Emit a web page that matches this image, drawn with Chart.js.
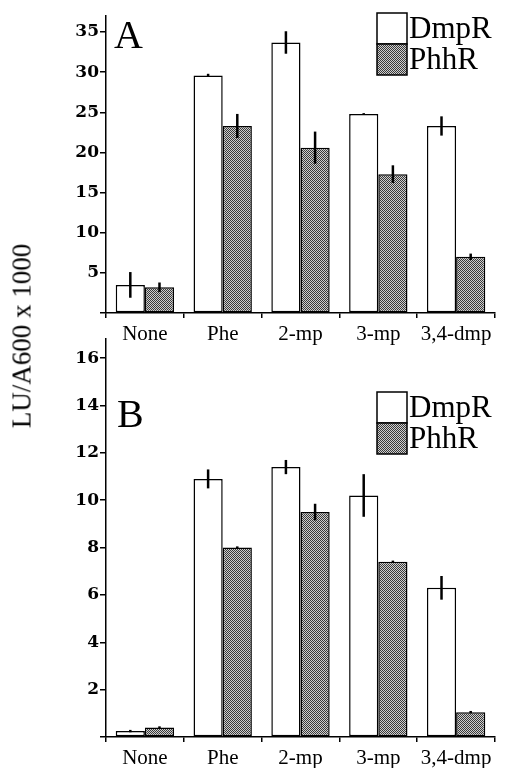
<!DOCTYPE html>
<html>
<head>
<meta charset="utf-8">
<script src="https://cdn.jsdelivr.net/npm/chart.js@4.4.0/dist/chart.umd.min.js"></script>
<style>
  body { margin: 0; background: #fff; }
  #wrap { position: relative; width: 506px; height: 768px; overflow: hidden; }
  #boxA { position: absolute; left: 0; top: 0; width: 506px; height: 352px; }
  #boxB { position: absolute; left: 0; top: 328px; width: 506px; height: 440px; }
  #ytitle {
    position: absolute; left: 22px; top: 336px;
    transform: translate(-50%, -50%) rotate(-90deg);
    font: 27px "Liberation Serif", serif; white-space: nowrap; color: #000;
  }
</style>
</head>
<body>
<div id="wrap">
  <div id="boxA"><canvas id="chartA"></canvas></div>
  <div id="boxB"><canvas id="chartB"></canvas></div>
  <div id="ytitle">LU/A600 x 1000</div>
</div>
<script>
// inducers on the x axis
const categories = ['None', 'Phe', '2-mp', '3-mp', '3,4-dmp'];
const seriesNames = ['DmpR', 'PhhR'];

// panel A
const dmprA = [3.5, 29.6, 33.7, 24.8, 23.3];
const dmprAErr = [1.6, 0.2, 1.4, 0.1, 1.2];
const phhrA = [3.2, 23.3, 20.6, 17.3, 7.0];
const phhrAErr = [0.6, 1.5, 2.0, 1.1, 0.4];

// panel B
const dmprB = [0.25, 10.9, 11.4, 10.2, 6.3];
const dmprBErr = [0.05, 0.4, 0.3, 0.9, 0.5];
const phhrB = [0.4, 8.0, 9.5, 7.4, 1.05];
const phhrBErr = [0.05, 0.05, 0.35, 0.05, 0.05];

// stippled grey fill like the printed figure
function makeStipple() {
  const c = document.createElement('canvas');
  c.width = 2; c.height = 2;
  const g = c.getContext('2d');
  g.fillStyle = '#cfcfcf'; g.fillRect(0, 0, 2, 2);
  g.fillStyle = '#3a3a3a';
  g.fillRect(0, 0, 1, 1);
  g.fillRect(1, 1, 1, 1);
  return g.createPattern(c, 'repeat');
}
const stipple = makeStipple();

// vertical error lines, no caps
const errorBars = {
  id: 'errorBars',
  afterDatasetsDraw(chart) {
    const ctx = chart.ctx;
    const y = chart.scales.y;
    ctx.save();
    ctx.strokeStyle = '#000';
    ctx.lineWidth = 2.5;
    chart.data.datasets.forEach((ds, i) => {
      const meta = chart.getDatasetMeta(i);
      meta.data.forEach((bar, j) => {
        const v = ds.data[j], e = ds.errors[j];
        ctx.beginPath();
        ctx.moveTo(bar.x, y.getPixelForValue(v + e));
        ctx.lineTo(bar.x, y.getPixelForValue(v - e));
        ctx.stroke();
      });
    });
    ctx.restore();
  }
};

// panel letter and boxed legend inside the plot
const panelDecor = {
  id: 'panelDecor',
  afterDraw(chart, args, opts) {
    const ctx = chart.ctx;
    ctx.save();
    ctx.fillStyle = '#000';
    ctx.textBaseline = 'alphabetic';
    ctx.font = '40px "Liberation Serif", serif';
    ctx.fillText(opts.letter, opts.letterX, opts.letterY);

    const bx = 377, bw = 30, bh = 31;
    const top = opts.legendTop;
    ctx.font = '31px "Liberation Serif", serif';
    chart.data.datasets.forEach((ds, i) => {
      ctx.fillStyle = ds.backgroundColor;
      ctx.fillRect(bx, top + i * bh, bw, bh);
      ctx.strokeStyle = '#000';
      ctx.lineWidth = 1.5;
      ctx.strokeRect(bx, top + i * bh, bw, bh);
      ctx.fillStyle = '#000';
      ctx.fillText(ds.label, bx + bw + 2, top + i * bh + 25);
    });
    ctx.restore();
  }
};

function buildChart(id, dmpr, dmprErr, phhr, phhrErr, cfg) {
  return new Chart(document.getElementById(id), {
    type: 'bar',
    data: {
      labels: categories,
      datasets: [
        { label: seriesNames[0], data: dmpr, errors: dmprErr, backgroundColor: '#fff' },
        { label: seriesNames[1], data: phhr, errors: phhrErr, backgroundColor: stipple }
      ]
    },
    options: {
      responsive: true,
      maintainAspectRatio: false,
      animation: false,
      layout: { padding: { left: 0, right: 11, top: cfg.padTop, bottom: 0 } },
      datasets: {
        bar: {
          borderColor: '#000',
          borderWidth: 1.5,
          borderSkipped: false,
          categoryPercentage: 0.75,
          barPercentage: 1.0
        }
      },
      scales: {
        x: {
          afterFit(scale) { scale.height = cfg.xHeight; },
          grid: { display: true, drawOnChartArea: false, drawTicks: true, tickLength: 5, color: '#000', lineWidth: 1.5, offset: true },
          border: { display: true, color: '#000', width: 1.5 },
          ticks: { color: '#000', padding: 4, font: { family: 'Liberation Serif', size: 21 } }
        },
        y: {
          min: 0,
          max: cfg.max,
          afterFit(scale) { scale.width = 106; },
          grid: { display: true, drawOnChartArea: false, drawTicks: true, tickLength: 6, color: '#000', lineWidth: 1.5 },
          border: { display: true, color: '#000', width: 1.5 },
          ticks: {
            stepSize: cfg.step,
            includeBounds: false,
            padding: 1,
            color: '#000',
            font: { family: 'DejaVu Serif', size: 17, weight: 'bold' },
            callback: v => (v === 0 ? '' : v)
          }
        }
      },
      plugins: {
        legend: { display: false },
        tooltip: { enabled: false },
        panelDecor: cfg.decor
      }
    },
    plugins: [errorBars, panelDecor]
  });
}

buildChart('chartA', dmprA, dmprAErr, phhrA, phhrAErr, {
  padTop: 16, xHeight: 39, max: 37, step: 5,
  decor: { letter: 'A', letterX: 114, letterY: 48, legendTop: 13 }
});

buildChart('chartB', dmprB, dmprBErr, phhrB, phhrBErr, {
  padTop: 7, xHeight: 31, max: 16.8, step: 2,
  decor: { letter: 'B', letterX: 117, letterY: 99, legendTop: 64 }
});
</script>
</body>
</html>
